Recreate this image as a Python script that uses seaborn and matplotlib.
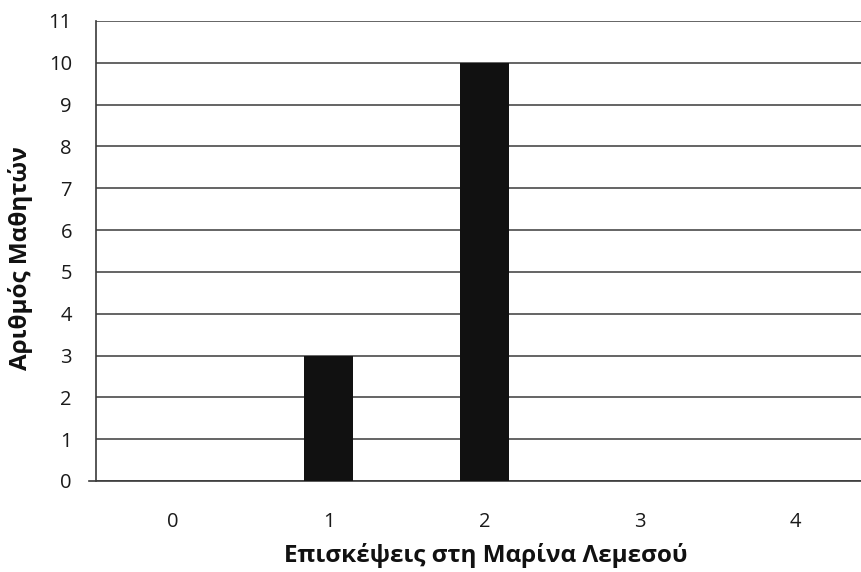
import matplotlib
matplotlib.use("Agg")
import matplotlib.pyplot as plt
import seaborn as sns
import pandas as pd

# data
visits = ["0", "1", "2", "3", "4"]
students = [0, 3, 10, 0, 0]
y_ticks = list(range(0, 12))

sns.set_theme(style="white")
plt.rcParams["font.family"] = ["Open Sans", "DejaVu Sans"]

df = pd.DataFrame({"visits": visits, "students": students})

fig = plt.figure(figsize=(8.61, 5.72), dpi=100)
ax = fig.add_axes([95.5 / 861, 91 / 572, 777.5 / 861, 460 / 572])

sns.barplot(data=df, x="visits", y="students", color="#111111",
            width=0.315, saturation=1, linewidth=0, ax=ax, zorder=3)

ax.set_xlim(-0.5, 4.5)
ax.set_ylim(0, 11)
ax.set_yticks(y_ticks)
ax.yaxis.grid(True, color="#3a3a3a", linewidth=1.1, zorder=0)
ax.xaxis.grid(False)
for side in ["top", "right"]:
    ax.spines[side].set_visible(False)
for side in ["left", "bottom"]:
    ax.spines[side].set_color("#3a3a3a")
    ax.spines[side].set_linewidth(1.2)
# small stub left of the baseline, like the original
ax.spines["bottom"].set_bounds(-0.54, 4.5)

ax.tick_params(axis="both", length=0, labelsize=14.5, labelcolor="#1a1a1a")
ax.tick_params(axis="y", pad=17)
ax.tick_params(axis="x", pad=22)

ax.set_xlabel("Επισκέψεις στη Μαρίνα Λεμεσού", fontsize=17.5, fontweight="bold",
              color="#111111", va="center")
ax.set_ylabel("Αριθμός Μαθητών", fontsize=17.5, fontweight="bold",
              color="#111111", va="center")
ax.xaxis.set_label_coords(0.502, -0.162)
ax.yaxis.set_label_coords(-0.097, 0.485)

fig.savefig("out.png", dpi=100)
